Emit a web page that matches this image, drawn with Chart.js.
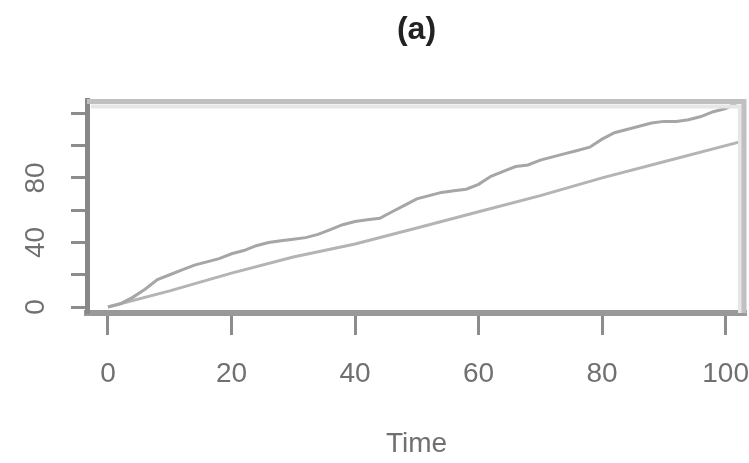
<!DOCTYPE html>
<html>
<head>
<meta charset="utf-8">
<script src="https://cdn.jsdelivr.net/npm/chart.js@4/dist/chart.umd.min.js"></script>
<style>
  html, body { margin: 0; padding: 0; background: #fff; }
  #wrap { width: 749px; height: 463px; }
</style>
</head>
<body>
<div id="wrap"><canvas id="myChart"></canvas></div>
<script>
// upper (stepped) series
const timeUpper = [0, 2, 4, 6, 8, 10, 12, 14, 16, 18, 20, 22, 24, 26, 28, 30, 32, 34, 36, 38, 40,
  42, 44, 46, 48, 50, 52, 54, 56, 58, 60, 62, 64, 66, 68, 70, 72, 74, 76, 78, 80,
  82, 84, 86, 88, 90, 92, 94, 96, 98, 100, 102];
const valuesUpper = [0, 2, 6, 11, 17, 20, 23, 26, 28, 30, 33, 35, 38, 40, 41, 42, 43, 45, 48, 51, 53,
  54, 55, 59, 63, 67, 69, 71, 72, 73, 76, 81, 84, 87, 88, 91, 93, 95, 97, 99, 104,
  108, 110, 112, 114, 115, 115, 116, 118, 121, 123, 127];

// lower (almost straight) series
const timeLower = [0, 10, 20, 30, 40, 50, 60, 70, 80, 90, 100, 104];
const valuesLower = [0, 10, 21, 31, 39, 49, 59, 69, 80, 90, 100, 104];

const xTicks = [0, 20, 40, 60, 80, 100];
const yTicks = [0, 20, 40, 60, 80, 100, 120];
const yLabels = [0, 40, 80];

const toPoints = (xs, ys) => xs.map((x, i) => ({ x: x, y: ys[i] }));

// light frame round the plot area (top and right sides)
const frame = {
    id: 'frame',
    afterDatasetsDraw(chart) {
        const { ctx, chartArea: a } = chart;
        ctx.save();
        ctx.strokeStyle = '#e6e6e6';
        ctx.lineWidth = 4;
        ctx.beginPath();
        ctx.moveTo(a.left + 4, a.top + 6);
        ctx.lineTo(a.right - 6, a.top + 6);
        ctx.lineTo(a.right - 6, a.bottom);
        ctx.stroke();
        ctx.strokeStyle = '#c0c0c0';
        ctx.lineWidth = 5;
        ctx.beginPath();
        ctx.moveTo(a.left, a.top + 1);
        ctx.lineTo(a.right - 2, a.top + 1);
        ctx.lineTo(a.right - 2, a.bottom);
        ctx.stroke();
        ctx.restore();
    }
};

const tickFont = { family: 'Liberation Sans', size: 28 };

const config = {
    type: 'line',
    data: {
        datasets: [{
            data: toPoints(timeUpper, valuesUpper),
            borderColor: '#a6a6a6',
            borderWidth: 3,
            pointRadius: 0,
            tension: 0
        }, {
            data: toPoints(timeLower, valuesLower),
            borderColor: '#b4b4b4',
            borderWidth: 3,
            pointRadius: 0,
            tension: 0
        }]
    },
    options: {
        responsive: true,
        maintainAspectRatio: false,
        animation: false,
        layout: { padding: { top: 0, right: 3, bottom: 0, left: 0 } },
        plugins: {
            legend: { display: false },
            tooltip: { enabled: false },
            title: {
                display: true,
                fullSize: false,
                text: '(a)',
                color: '#222',
                font: { family: 'Liberation Sans', size: 32, weight: 'bold' },
                padding: { top: 11, bottom: 51 }
            }
        },
        scales: {
            x: {
                type: 'linear',
                min: -3.4,
                max: 103.3,
                afterBuildTicks: (scale) => { scale.ticks = xTicks.map(v => ({ value: v })); },
                ticks: {
                    color: '#707070',
                    font: tickFont,
                    padding: 22,
                    maxRotation: 0,
                    autoSkip: false
                },
                grid: {
                    drawOnChartArea: false,
                    drawTicks: true,
                    tickLength: 22,
                    tickColor: '#8c8c8c',
                    tickWidth: 3
                },
                border: { color: '#999', width: 6 },
                title: {
                    display: true,
                    text: 'Time',
                    color: '#707070',
                    font: { family: 'Liberation Sans', size: 28 },
                    padding: { top: 0, bottom: 2 }
                },
                afterFit: (scale) => {
                    scale.height = 150;
                    scale.paddingLeft = 0;
                    scale.paddingRight = 0;
                }
            },
            y: {
                type: 'linear',
                min: -3.7,
                max: 128,
                afterBuildTicks: (scale) => { scale.ticks = yTicks.map(v => ({ value: v })); },
                ticks: {
                    color: '#707070',
                    font: tickFont,
                    padding: 19,
                    crossAlign: 'center',
                    minRotation: 90,
                    maxRotation: 90,
                    autoSkip: false,
                    callback: (v) => yLabels.includes(v) ? String(v) : ''
                },
                grid: {
                    drawOnChartArea: false,
                    drawTicks: true,
                    tickLength: 16,
                    tickColor: '#8c8c8c',
                    tickWidth: 3
                },
                border: { color: '#888', width: 5 },
                afterFit: (scale) => { scale.width = 87; }
            }
        }
    },
    plugins: [frame]
};

const myChart = new Chart(document.getElementById('myChart'), config);
</script>
</body>
</html>
